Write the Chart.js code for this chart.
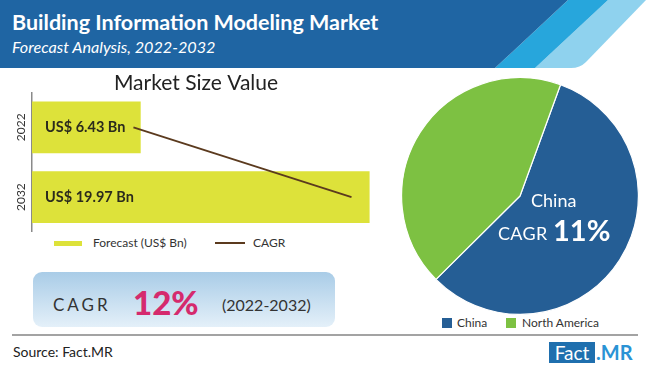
<!DOCTYPE html>
<html><head><meta charset="utf-8">
<script src="https://cdn.jsdelivr.net/npm/chart.js@4.4.0/dist/chart.umd.min.js"></script>
<style>
html,body{margin:0;padding:0;background:#fff;}
body{width:650px;height:370px;position:relative;overflow:hidden;font-family:Lato,"Open Sans",sans-serif;}
.abs{position:absolute;white-space:nowrap;}
</style></head><body>
<svg class="abs" style="left:0;top:0" width="650" height="70">
  <path d="M608,0 L646,0 L586,62 Q580,68 571,68 L535,68 Z" fill="#8fd2ee"/>
  <polygon points="568,0 608,0 535,68 495,68" fill="#27a6dc"/>
  <polygon points="0,0 568,0 495,68 0,68" fill="#1f65a3"/>
</svg>
<div class="abs" style="left:12px;top:8px;line-height:28px;font-size:21.5px;font-weight:bold;color:#fff;">Building Information Modeling Market</div>
<div class="abs" style="left:12px;top:37px;line-height:20px;font-size:16.2px;font-style:italic;color:#fff;">Forecast Analysis, 2022-2032</div>

<canvas id="bar" class="abs" style="left:0;top:66px;" width="400" height="166"></canvas>

<div class="abs" style="left:54px;top:241px;width:28px;height:5px;background:#dde23a;"></div>
<div class="abs" style="left:93px;top:235px;line-height:16px;font-size:12px;color:#333;">Forecast (US$ Bn)</div>
<div class="abs" style="left:215px;top:242px;width:30px;height:2px;background:#5b3a1e;"></div>
<div class="abs" style="left:253px;top:235px;line-height:16px;font-size:12px;color:#333;">CAGR</div>

<div class="abs" style="left:33px;top:272px;width:302px;height:55px;border-radius:9px;background:linear-gradient(#a9cce7,#e4f0f9);"></div>
<div class="abs" style="left:53px;top:294px;line-height:22px;font-size:17px;letter-spacing:3px;color:#333;">CAGR</div>
<div class="abs" style="left:133px;top:282px;line-height:40px;font-size:33px;font-weight:900;color:#d52a6d;">12%</div>
<div class="abs" style="left:222px;top:294px;line-height:22px;font-size:16px;color:#333;">(2022-2032)</div>

<canvas id="pie" class="abs" style="left:401px;top:77px;" width="238" height="238"></canvas>
<div class="abs" style="left:531px;top:189px;line-height:22px;font-size:18px;color:#fff;">China</div>
<div class="abs" style="left:498px;top:222px;line-height:22px;font-size:18px;letter-spacing:0.3px;color:#fff;">CAGR</div>
<div class="abs" style="left:553px;top:212px;line-height:36px;font-size:29px;font-weight:bold;color:#fff;">11%</div>

<div class="abs" style="left:442px;top:318px;width:10px;height:10px;background:#255e95;"></div>
<div class="abs" style="left:457px;top:315px;line-height:16px;font-size:12px;color:#333;">China</div>
<div class="abs" style="left:506px;top:318px;width:10px;height:10px;background:#7dc142;"></div>
<div class="abs" style="left:522px;top:315px;line-height:16px;font-size:12px;color:#333;">North America</div>

<div class="abs" style="left:12px;top:334px;width:626px;height:2px;background:#a3a3a3;"></div>
<div class="abs" style="left:13px;top:343px;line-height:18px;font-size:14px;color:#222;">Source: Fact.MR</div>
<div class="abs" style="left:549px;top:342px;width:46px;height:21px;background:#1f6fae;color:#fff;font-size:19px;line-height:21px;text-align:center;">Fact</div>
<div class="abs" style="left:596px;top:341px;line-height:23px;font-size:20px;font-weight:bold;color:#2a93d5;">.MR</div>

<script>
const years = ['2022', '2032'];
const forecastValues = [6.43, 19.97];
const forecastLabels = ['US$ 6.43 Bn', 'US$ 19.97 Bn'];
const cagrLine = [6.0, 18.9];
const regions = ['China', 'North America'];
const regionShares = [57, 43];

const barText = {
  id: 'barText',
  afterDatasetsDraw(chart) {
    const ctx = chart.ctx;
    const meta = chart.getDatasetMeta(1);
    const ys = chart.scales.y;
    ctx.save();
    ctx.font = 'bold 14.5px Lato';
    ctx.fillStyle = '#2b2b1d';
    ctx.textBaseline = 'middle';
    ctx.textAlign = 'left';
    meta.data.forEach((bar, i) => ctx.fillText(forecastLabels[i], bar.base + 13, bar.y));
    ctx.font = '12px Lato';
    ctx.fillStyle = '#333';
    ctx.textAlign = 'center';
    years.forEach((yr, i) => {
      ctx.save();
      ctx.translate(21, ys.getPixelForValue(i));
      ctx.rotate(-Math.PI / 2);
      ctx.fillText(yr, 0, 0);
      ctx.restore();
    });
    ctx.restore();
  }
};

new Chart(document.getElementById('bar'), {
  data: {
    labels: years,
    datasets: [
      { type: 'line', label: 'CAGR', data: cagrLine, borderColor: '#5b3a1e', borderWidth: 1.8, pointRadius: 0, order: 0 },
      { type: 'bar', label: 'Forecast (US$ Bn)', data: forecastValues, backgroundColor: '#dde23a', barPercentage: 0.74, categoryPercentage: 1, order: 1 }
    ]
  },
  options: {
    indexAxis: 'y',
    responsive: false,
    animation: false,
    layout: { padding: { left: 5, right: 13, top: 0, bottom: 0 } },
    plugins: {
      legend: { display: false },
      tooltip: { enabled: false },
      title: { display: true, text: 'Market Size Value', color: '#222', font: { family: 'Lato', size: 21, weight: 'normal', lineHeight: 0.9 }, padding: { top: 7.5, bottom: 0 } }
    },
    scales: {
      x: { display: false, min: 0, max: 21 },
      y: {
        ticks: { display: false },
        grid: { display: false, drawTicks: false },
        border: { display: true, color: '#8a8a8a', width: 1.5 },
        afterFit(scale) { scale.width = 27; }
      }
    }
  },
  plugins: [barText]
});

new Chart(document.getElementById('pie'), {
  type: 'pie',
  data: {
    labels: regions,
    datasets: [{ data: regionShares, backgroundColor: ['#255e95', '#7dc142'], borderColor: '#ffffff', borderWidth: 1.2 }]
  },
  options: {
    responsive: false,
    animation: false,
    rotation: 20,
    layout: { padding: 0 },
    plugins: { legend: { display: false }, tooltip: { enabled: false } }
  }
});
</script>
</body></html>
